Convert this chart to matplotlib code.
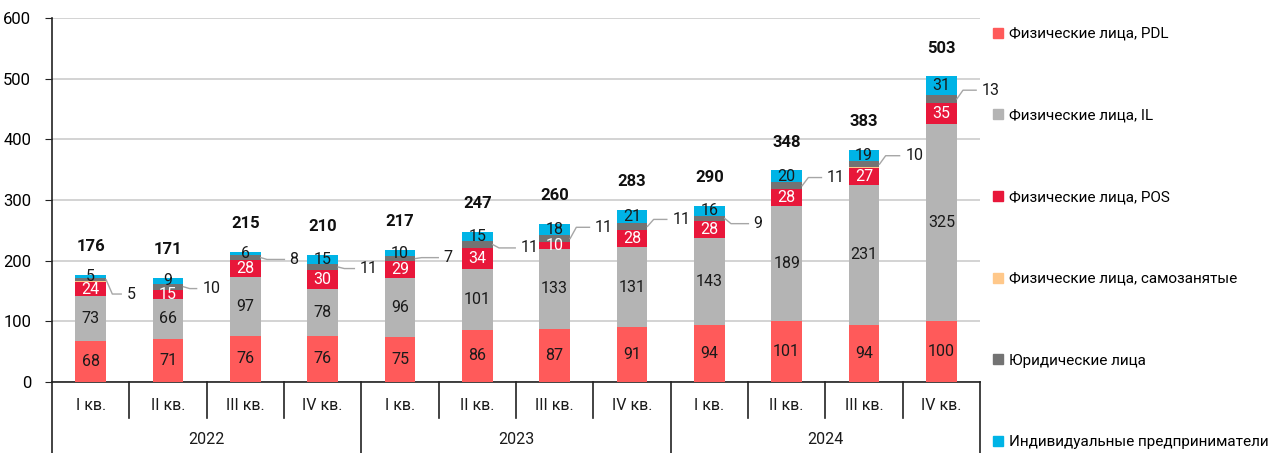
import numpy as np
import matplotlib.pyplot as plt
from matplotlib.patches import Patch
import matplotlib.transforms as mtransforms

plt.rcParams['font.family'] = ['Roboto', 'DejaVu Sans']

quarters = ['I кв.', 'II кв.', 'III кв.', 'IV кв.'] * 3
years = ['2022', '2023', '2024']

pdl = [68, 71, 76, 76, 75, 86, 87, 91, 94, 101, 94, 100]
il = [73, 66, 97, 78, 96, 101, 133, 131, 143, 189, 231, 325]
pos = [24, 15, 28, 30, 29, 34, 10, 28, 28, 28, 27, 35]
selfemp = [1, 0, 0, 0, 0, 0, 1, 1, 0, 0, 2, 0]
legal = [5, 10, 8, 11, 7, 11, 11, 11, 9, 11, 10, 13]
ip = [5, 9, 6, 15, 10, 15, 18, 21, 16, 20, 19, 31]
totals = [176, 171, 215, 210, 217, 247, 260, 283, 290, 348, 383, 503]

names = ['Физические лица, PDL', 'Физические лица, IL', 'Физические лица, POS',
         'Физические лица, самозанятые', 'Юридические лица',
         'Индивидуальные предприниматели']
colors = ['#FF5A5A', '#B4B4B4', '#E8173A', '#FFC88A', '#737373', '#00B4E6']
text_colors = ['#1a1a1a', '#1a1a1a', 'white', None, None, '#1a1a1a']

# where the "legal" labels sit (x offset of label centre from bar centre, y in data units)
legal_lbl_dx = [0.52, 0.56, 0.63, 0.60, 0.62, 0.68, 0.64, 0.64, 0.63, 0.64, 0.65, 0.64]
legal_lbl_y = [145, 154, 202, 187, 205, 221, 255, 268, 261, 337, 373, 481]

fig = plt.figure(figsize=(12.79, 4.53), dpi=100)
ax = fig.add_axes([52 / 1279, 1 - 382 / 453, (980 - 52) / 1279, (382 - 18) / 453])

x = np.arange(len(quarters))
w = 0.4
series = [pdl, il, pos, selfemp, legal, ip]
bottom = np.zeros(len(x))
for vals, col, tc in zip(series, colors, text_colors):
    vals = np.array(vals, dtype=float)
    ax.bar(x, vals, w, bottom=bottom, color=col, zorder=3, linewidth=0)
    if tc is not None:
        for xi, b, v in zip(x, bottom, vals):
            ax.text(xi, b + v / 2, f'{int(v)}', ha='center', va='center',
                    color=tc, fontsize=11.5, zorder=4)
    bottom += vals

# legal entities labels with leader lines
seg_mid = np.array(pdl) + np.array(il) + np.array(pos) + np.array(selfemp) + np.array(legal) / 2
for xi, v, ym, dx, ly in zip(x, legal, seg_mid, legal_lbl_dx, legal_lbl_y):
    end = xi + dx - 0.06 - 0.065 * len(str(v))
    ax.plot([xi + w / 2, xi + w / 2 + 0.08, end], [ym, ly, ly],
            color='#A6A6A6', lw=1, zorder=4, clip_on=False)
    ax.text(xi + dx, ly, str(v), ha='center', va='center', fontsize=11.5, color='#1a1a1a')

for xi, t in zip(x, totals):
    ax.text(xi, t + 47, str(t), ha='center', va='center', fontsize=12,
            fontweight='bold', color='#111111')

ax.set_xlim(-0.5, len(x) - 0.5)
ax.set_ylim(0, 600)
ax.set_yticks(range(0, 601, 100))
ax.yaxis.grid(True, color='#D0D0D0', lw=1.3, zorder=0)
ax.tick_params(axis='y', labelsize=12, length=5, color='#222222', pad=10)
ax.tick_params(axis='x', length=0, labelbottom=False)
for s in ['top', 'right']:
    ax.spines[s].set_visible(False)
ax.spines['left'].set_color('#222222')
ax.spines['bottom'].set_color('#222222')
ax.spines['left'].set_linewidth(1.2)
ax.spines['bottom'].set_linewidth(1.2)

# two level category axis
trans = mtransforms.blended_transform_factory(ax.transData, ax.transAxes)
ax_h = (382 - 18)
q_low = -(418 - 382) / ax_h
y_low = -(453 - 382) / ax_h
for b in np.arange(-0.5, len(x), 1.0):
    low = y_low if (b + 0.5) % 4 == 0 else q_low
    ax.plot([b, b], [0, low], transform=trans, color='#222222', lw=1.2, clip_on=False)
for xi, q in zip(x, quarters):
    ax.text(xi, -(406 - 382) / ax_h, q, transform=trans, ha='center', va='center',
            fontsize=11.5, color='#1a1a1a')
for i, yr in enumerate(years):
    ax.text(4 * i + 1.5, -(439 - 382) / ax_h, yr, transform=trans, ha='center',
            va='center', fontsize=11.5, color='#1a1a1a')

handles = [Patch(color=c) for c in colors]
fig.legend(handles, names, loc='upper left', bbox_to_anchor=(993 / 1279, 1 - 27 / 453),
           frameon=False, fontsize=11, handlelength=0.65, handleheight=0.65,
           handletextpad=0.4, labelspacing=4.43, borderpad=0, borderaxespad=0)

fig.savefig('out.png', dpi=100)
